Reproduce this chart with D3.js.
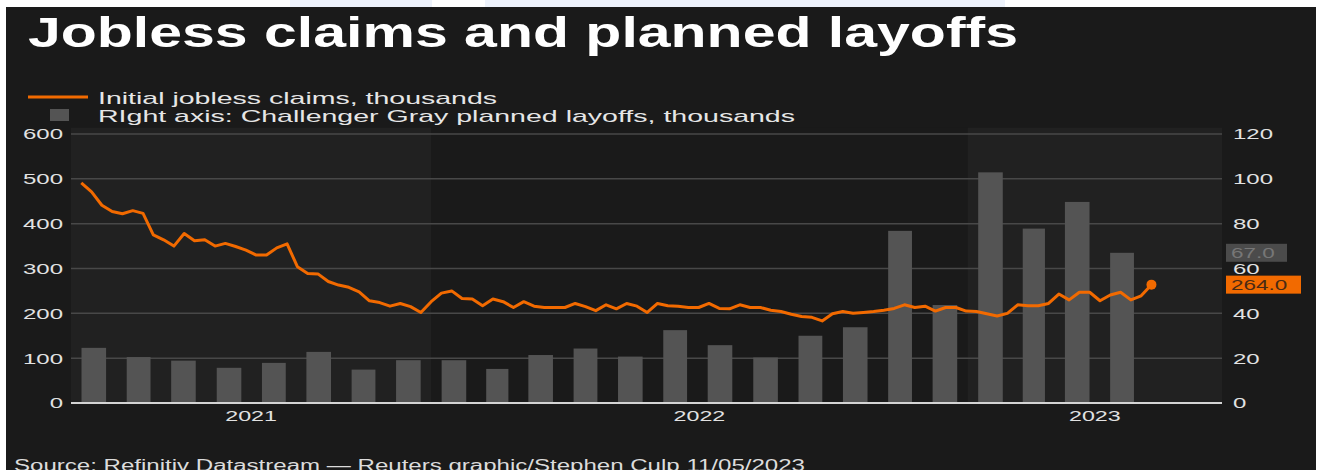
<!DOCTYPE html>
<html>
<head>
<meta charset="utf-8">
<script src="https://cdn.jsdelivr.net/npm/d3@7"></script>
<style>
  body { margin: 0; background: #fff; }
  svg { display: block; font-family: 'Liberation Sans', Arial, sans-serif; }
</style>
</head>
<body>
<script>
// weekly initial jobless claims (thousands), weeks ending Sat 8 May 2021 .. 6 May 2023
const claimsStart = new Date(2021, 4, 8);
const claims = [
  491,471,441,427,422,429,423,375,364,350,
  378,362,364,350,356,349,341,330,330,346,
  355,304,289,288,271,263,258,248,228,224,
  216,222,215,202,226,245,250,233,232,217,
  232,226,213,226,216,213,213,213,222,215,
  206,219,210,222,216,202,222,217,216,213,
  213,222,211,210,219,213,213,207,204,198,
  193,191,183,199,204,200,202,204,207,211,
  219,213,216,205,213,213,205,204,199,194,
  200,219,217,217,222,243,230,247,247,228,
  241,247,230,239,264
];

// Challenger Gray planned layoffs (thousands), May 2021 .. Apr 2023
const layoffsStart = new Date(2021, 4, 1);
const layoffs = [
  24.6,20.5,18.9,15.7,17.9,22.8,14.9,19.1,
  19.1,15.2,21.4,24.3,20.7,32.5,25.8,20.3,30.0,33.8,76.8,43.7,
  102.9,77.8,89.7,67.0
];

const years = [2021, 2022, 2023];
const leftTicks = [0, 100, 200, 300, 400, 500, 600];
const rightTicks = [0, 20, 40, 60, 80, 100, 120];

const w = 1322;
const h = 470;
const plotL = 71, plotR = 1222, plotT = 134, plotB = 403;

const orange = '#f26a00';
const barColor = '#545454';

const weeks = d3.timeSaturday.range(claimsStart, d3.timeDay.offset(claimsStart, 7 * (claims.length - 1) + 1));
const lineData = weeks.map((d, i) => [d, claims[i]]);
const months = d3.timeMonth.range(layoffsStart, d3.timeMonth.offset(layoffsStart, layoffs.length));

const xScale = d3.scaleTime().domain([new Date(2021, 4, 1), new Date(2023, 5, 23)]).range([plotL, plotR]);
const yLeft = d3.scaleLinear().domain([0, 600]).range([plotB, plotT]);
const yRight = d3.scaleLinear().domain([0, 120]).range([plotB, plotT]);

const svg = d3.select('body')
  .append('svg')
  .attr('width', w)
  .attr('height', h);

// background + screenshot borders
svg.append('rect').attr('width', w).attr('height', h).attr('fill', '#fff');
svg.append('rect').attr('x', 6).attr('y', 7).attr('width', 1310).attr('height', h - 7).attr('fill', '#1a1a1a');
svg.append('rect').attr('x', 290).attr('y', 0).attr('width', 142).attr('height', 7).attr('fill', '#edf2fb');
svg.append('rect').attr('x', 485).attr('y', 0).attr('width', 520).attr('height', 7).attr('fill', '#edf2fb');

// year bands
const bandTop = yLeft(614);
const bandX0 = d => Math.max(plotL, xScale(new Date(d, 0, 1)));
const bandX1 = d => Math.min(plotR, xScale(new Date(d + 1, 0, 1)));
svg.selectAll('rect.band')
  .data(years)
  .enter()
  .append('rect')
  .attr('class', 'band')
  .attr('x', d => bandX0(d))
  .attr('y', bandTop)
  .attr('width', d => bandX1(d) - bandX0(d))
  .attr('height', plotB - bandTop)
  .attr('fill', (d, i) => i % 2 === 0 ? '#212121' : '#1a1a1a');

// gridlines
svg.selectAll('line.grid')
  .data(leftTicks.slice(1))
  .enter()
  .append('line')
  .attr('class', 'grid')
  .attr('x1', plotL).attr('x2', plotR)
  .attr('y1', d => yLeft(d)).attr('y2', d => yLeft(d))
  .attr('stroke', '#484848')
  .attr('stroke-width', 1.5);

// bars
const monthW = i => xScale(d3.timeMonth.offset(months[i], 1)) - xScale(months[i]);
svg.selectAll('rect.bar')
  .data(layoffs)
  .enter()
  .append('rect')
  .attr('class', 'bar')
  .attr('x', (d, i) => xScale(months[i]) + monthW(i) * 0.23)
  .attr('width', (d, i) => monthW(i) * 0.54)
  .attr('y', d => yRight(d))
  .attr('height', d => plotB - yRight(d))
  .attr('fill', barColor);

// zero line
svg.append('line')
  .attr('x1', plotL).attr('x2', plotR)
  .attr('y1', plotB).attr('y2', plotB)
  .attr('stroke', '#d4d4d4')
  .attr('stroke-width', 2);

// claims line
const line = d3.line().x(d => xScale(d[0])).y(d => yLeft(d[1]));
svg.append('path')
  .datum(lineData)
  .attr('d', line)
  .attr('fill', 'none')
  .attr('stroke', orange)
  .attr('stroke-width', 3)
  .attr('stroke-linejoin', 'round');

const last = lineData[lineData.length - 1];
svg.append('circle')
  .attr('cx', xScale(last[0]))
  .attr('cy', yLeft(last[1]))
  .attr('r', 5)
  .attr('fill', orange);

// axis labels (stretched text like the source image)
svg.selectAll('text.yl')
  .data(leftTicks)
  .enter()
  .append('text')
  .attr('class', 'yl')
  .attr('transform', d => `translate(63,${yLeft(d)}) scale(1.6,1)`)
  .attr('dy', '0.36em')
  .attr('text-anchor', 'end')
  .attr('font-size', 15)
  .attr('fill', '#e2e2e2')
  .text(d => d);

svg.selectAll('text.yr')
  .data(rightTicks)
  .enter()
  .append('text')
  .attr('class', 'yr')
  .attr('transform', d => `translate(1233,${yRight(d)}) scale(1.6,1)`)
  .attr('dy', '0.36em')
  .attr('font-size', 15)
  .attr('fill', '#e2e2e2')
  .text(d => d);

svg.selectAll('text.year')
  .data(years)
  .enter()
  .append('text')
  .attr('class', 'year')
  .attr('transform', d => `translate(${(bandX0(d) + bandX1(d)) / 2},421) scale(1.55,1)`)
  .attr('text-anchor', 'middle')
  .attr('font-size', 15)
  .attr('fill', '#e2e2e2')
  .text(d => d);

// last value tags
function tag(y, label, fill, color, wd) {
  svg.append('rect')
    .attr('x', 1226).attr('y', y - 9)
    .attr('width', wd).attr('height', 18)
    .attr('fill', fill);
  svg.append('text')
    .attr('transform', `translate(1231,${y}) scale(1.5,1)`)
    .attr('dy', '0.36em')
    .attr('font-size', 15)
    .attr('fill', color)
    .text(label);
}
tag(yRight(layoffs[layoffs.length - 1]), layoffs[layoffs.length - 1].toFixed(1), '#4b4b4b', '#777', 61);
tag(yLeft(last[1]), last[1].toFixed(1), orange, '#4a2a14', 75);

// title, legend, source
svg.append('text')
  .attr('x', 28).attr('y', 47)
  .attr('font-size', 42)
  .attr('font-weight', 'bold')
  .attr('fill', '#fff')
  .attr('textLength', 990)
  .attr('lengthAdjust', 'spacingAndGlyphs')
  .text('Jobless claims and planned layoffs');

svg.append('line')
  .attr('x1', 28).attr('x2', 88).attr('y1', 97).attr('y2', 97)
  .attr('stroke', orange).attr('stroke-width', 3);
svg.append('text')
  .attr('x', 98).attr('y', 104)
  .attr('font-size', 17)
  .attr('fill', '#e6e6e6')
  .attr('textLength', 399)
  .attr('lengthAdjust', 'spacingAndGlyphs')
  .text('Initial jobless claims, thousands');

svg.append('rect')
  .attr('x', 50).attr('y', 109).attr('width', 19).attr('height', 12)
  .attr('fill', barColor);
svg.append('text')
  .attr('x', 98).attr('y', 122)
  .attr('font-size', 17)
  .attr('fill', '#e6e6e6')
  .attr('textLength', 697)
  .attr('lengthAdjust', 'spacingAndGlyphs')
  .text('RIght axis: Challenger Gray planned layoffs, thousands');

svg.append('text')
  .attr('x', 14).attr('y', 471)
  .attr('font-size', 16)
  .attr('fill', '#dcdcdc')
  .attr('textLength', 791)
  .attr('lengthAdjust', 'spacingAndGlyphs')
  .text('Source: Refinitiv Datastream \u2014 Reuters graphic/Stephen Culp 11/05/2023');
</script>
</body>
</html>
